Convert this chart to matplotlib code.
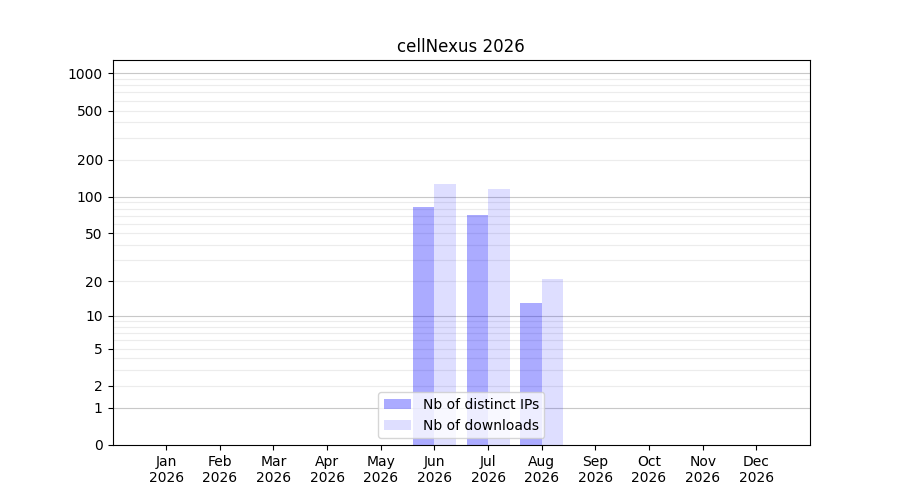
import numpy as np
import matplotlib
matplotlib.use('Agg')
import matplotlib.pyplot as plt

months = ['Jan', 'Feb', 'Mar', 'Apr', 'May', 'Jun', 'Jul', 'Aug', 'Sep', 'Oct', 'Nov', 'Dec']
year = 2026
nb_ips = [0, 0, 0, 0, 0, 82, 71, 13, 0, 0, 0, 0]
nb_downloads = [0, 0, 0, 0, 0, 128, 115, 21, 0, 0, 0, 0]
ytick_vals = [0, 1, 2, 5, 10, 20, 50, 100, 200, 500, 1000]

fwd = lambda v: np.log10(1 + np.asarray(v, dtype=float))
inv = lambda v: 10 ** np.asarray(v, dtype=float) - 1

x = np.arange(1, 13)
fig, ax = plt.subplots(figsize=(9, 5), dpi=100)
ax.set_yscale('function', functions=(fwd, inv))

# grid lines: decades darker, intermediate values light
for dec in [1, 10, 100, 1000]:
    ax.axhline(dec, color='#c8c8c8', lw=0.8, zorder=0)
    for k in range(2, 10):
        v = dec * k
        if v < max(nb_downloads) * 10:
            ax.axhline(v, color='#ececec', lw=0.8, zorder=0)

ax.bar(x - 0.2, nb_ips, width=0.4, color='blue', alpha=0.33, label='Nb of distinct IPs', zorder=2)
ax.bar(x + 0.2, nb_downloads, width=0.4, color='blue', alpha=0.13, label='Nb of downloads', zorder=2)

ax.set_xlim(0, 13)
ax.set_ylim(0, max(nb_downloads) * 10)
ax.set_yticks(ytick_vals)
ax.set_yticklabels([str(v) for v in ytick_vals])
ax.yaxis.set_minor_locator(matplotlib.ticker.NullLocator())
ax.set_xticks(x)
ax.set_xticklabels([f'{m}\n{year}' for m in months])
ax.set_title(f'cellNexus {year}')
ax.legend(loc='lower center')

fig.savefig('out.png', dpi=100)
